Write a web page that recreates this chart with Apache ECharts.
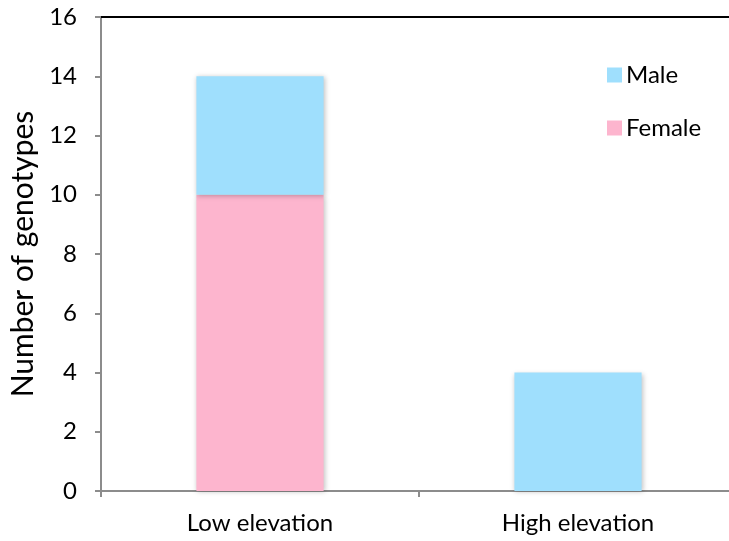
<!DOCTYPE html>
<html><head><meta charset="utf-8">
<script src="https://cdn.jsdelivr.net/npm/echarts@6/dist/echarts.min.js"></script>
<style>html,body{margin:0;padding:0;background:#fff;overflow:hidden}#c{width:729px;height:541px}</style>
</head><body><div id="c"></div>
<script>
const categories = ['Low elevation', 'High elevation'];
const female = [10, 0];
const male = [4, 4];
const yTicks = {min: 0, max: 16, interval: 2};
const yName = 'Number of genotypes';

const font = 'Lato, "Open Sans", sans-serif';
const chart = echarts.init(document.getElementById('c'));
const shadow = {shadowBlur: 5, shadowColor: 'rgba(0,0,0,0.25)', shadowOffsetX: 1, shadowOffsetY: 1};
chart.setOption({
  animation: false,
  textStyle: {fontFamily: font},
  grid: {left: 101, width: 636, top: 17, height: 474, containLabel: false, outerBoundsMode: 'none'},
  legend: {
    orient: 'vertical', left: 602, top: 58, itemGap: 29,
    itemWidth: 15, itemHeight: 15, icon: 'rect',
    textStyle: {fontSize: 24, color: '#000', fontFamily: font, padding: [0,0,0,-1]},
    data: ['Male', 'Female']
  },
  xAxis: [{
    type: 'category', data: categories,
    axisLine: {lineStyle: {color: '#8c8c8c', width: 2}},
    axisTick: {show: true, alignWithLabel: false, length: 6, lineStyle: {color: '#8c8c8c', width: 2}},
    axisLabel: {fontSize: 24, color: '#000', margin: 20, fontFamily: font}
  }, {
    type: 'category', data: categories, position: 'top',
    axisLine: {show: true, lineStyle: {color: '#000', width: 2}},
    axisTick: {show: false}, axisLabel: {show: false}
  }],
  yAxis: {
    type: 'value', min: yTicks.min, max: yTicks.max, interval: yTicks.interval,
    name: yName, nameLocation: 'middle', nameGap: 62, nameRotate: 90,
    nameTextStyle: {fontSize: 30, color: '#000', fontFamily: font},
    axisLine: {show: true, lineStyle: {color: '#8c8c8c', width: 2}},
    axisTick: {show: true, length: 6, lineStyle: {color: '#8c8c8c', width: 2}},
    axisLabel: {fontSize: 24, color: '#000', margin: 24, fontFamily: font},
    splitLine: {show: false}
  },
  series: [
    {name: 'Female', type: 'bar', stack: 's', data: female, barWidth: '40%',
     itemStyle: Object.assign({color: '#FDB5CE'}, shadow)},
    {name: 'Male', type: 'bar', stack: 's', data: male, barWidth: '40%',
     itemStyle: Object.assign({color: '#9FDFFD'}, shadow)}
  ]
});
</script></body></html>
